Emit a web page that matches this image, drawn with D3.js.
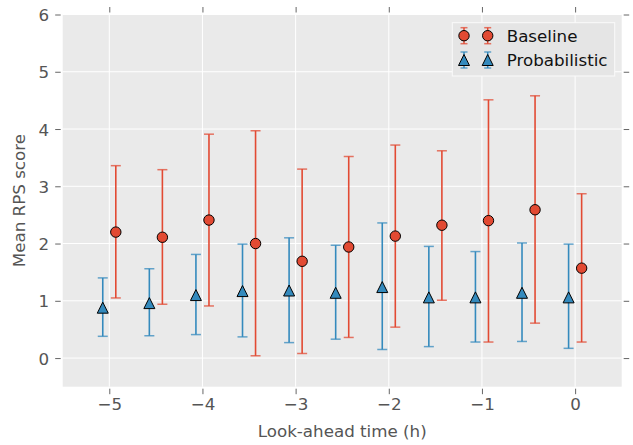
<!DOCTYPE html>
<html><head><meta charset="utf-8">
<script src="https://cdn.jsdelivr.net/npm/d3@7"></script>
<style>body{margin:0;background:#fff}svg{display:block}text{font-family:"DejaVu Sans",sans-serif}</style>
</head><body><svg id="c" width="633" height="445"></svg>
<script>
const lookAhead = [-5, -4.5, -4, -3.5, -3, -2.5, -2, -1.5, -1, -0.5, 0];
const baselineMean = [2.20, 2.11, 2.41, 2.00, 1.69, 1.94, 2.13, 2.32, 2.40, 2.59, 1.57];
const baselineLow  = [1.05, 0.94, 0.91, 0.04, 0.08, 0.36, 0.54, 1.01, 0.28, 0.61, 0.28];
const baselineHigh = [3.36, 3.29, 3.91, 3.97, 3.30, 3.52, 3.72, 3.62, 4.51, 4.58, 2.87];
const probMean = [0.88, 0.96, 1.10, 1.17, 1.18, 1.14, 1.24, 1.06, 1.06, 1.14, 1.06];
const probLow  = [0.38, 0.39, 0.41, 0.37, 0.27, 0.33, 0.15, 0.20, 0.28, 0.29, 0.17];
const probHigh = [1.40, 1.56, 1.81, 1.99, 2.10, 1.97, 2.36, 1.95, 1.86, 2.01, 1.99];
const xTicks = [-5, -4, -3, -2, -1, 0];
const yTicks = [0, 1, 2, 3, 4, 5, 6];
const seriesNames = ["Baseline", "Probabilistic"];

const red = "#E24A33", blue = "#348ABD";
const L = 62.7, R = 621.7, T = 14.5, B = 386.7;
const x = d3.scaleLinear().domain([-5.5, 0.5]).range([L, R]);
const y = d3.scaleLinear().domain([-0.5, 6]).range([B, T]);
const svg = d3.select("#c");
const tickCol = "#666", labCol = "#555";

svg.append("rect").attr("x", L).attr("y", T).attr("width", R - L).attr("height", B - T).attr("fill", "#EAEAEA");
const g = svg.append("g");
g.selectAll(".gx").data(xTicks).join("line").attr("x1", d => x(d)).attr("x2", d => x(d))
  .attr("y1", T).attr("y2", B).attr("stroke", "#fff").attr("stroke-width", 1);
g.selectAll(".gy").data(yTicks).join("line").attr("y1", d => y(d)).attr("y2", d => y(d))
  .attr("x1", L).attr("x2", R).attr("stroke", "#fff").attr("stroke-width", 1);

const fmt = d => d < 0 ? "\u2212" + Math.abs(d) : String(d);
function styleAxis(sel) {
  sel.select(".domain").remove();
  sel.selectAll(".tick line").attr("stroke", tickCol);
  sel.selectAll(".tick text").attr("fill", labCol).style("font-size", "16.7px").style("font-family", "DejaVu Sans");
}
const ax = svg.append("g").attr("transform", `translate(0,${B + 2})`)
  .call(d3.axisBottom(x).tickValues(xTicks).tickFormat(fmt).tickSize(5.5).tickPadding(4));
styleAxis(ax);
const axT = svg.append("g").attr("transform", `translate(0,${T - 2})`)
  .call(d3.axisTop(x).tickValues(xTicks).tickFormat("").tickSize(5.5));
styleAxis(axT);
const ay = svg.append("g").attr("transform", `translate(${L - 2},0)`)
  .call(d3.axisLeft(y).tickValues(yTicks).tickFormat(fmt).tickSize(5.5).tickPadding(6));
styleAxis(ay);
const ayR = svg.append("g").attr("transform", `translate(${R + 2},0)`)
  .call(d3.axisRight(y).tickValues(yTicks).tickFormat("").tickSize(5.5));
styleAxis(ayR);
ay.selectAll(".tick text").attr("dy", "0.36em");

svg.append("text").attr("x", (L + R) / 2).attr("y", 437).attr("text-anchor", "middle")
  .attr("fill", labCol).style("font-size", "16.7px").text("Look-ahead time (h)");
svg.append("text").attr("transform", `translate(25,${(T + B) / 2}) rotate(-90)`).attr("text-anchor", "middle")
  .attr("fill", labCol).style("font-size", "16.7px").text("Mean RPS score");

const off = 0.07, cap = 5;
function drawSeries(means, lows, highs, dx, color, shape) {
  const data = lookAhead.map((t, i) => ({ t: t + dx, m: means[i], lo: lows[i], hi: highs[i] }));
  const gg = svg.append("g");
  gg.selectAll(".eb").data(data).join("line").attr("x1", d => x(d.t)).attr("x2", d => x(d.t))
    .attr("y1", d => y(d.lo)).attr("y2", d => y(d.hi)).attr("stroke", color).attr("stroke-width", 1.6);
  ["lo", "hi"].forEach(k => {
    gg.selectAll(".cap" + k).data(data).join("line").attr("x1", d => x(d.t) - cap).attr("x2", d => x(d.t) + cap)
      .attr("y1", d => y(d[k])).attr("y2", d => y(d[k])).attr("stroke", color).attr("stroke-width", 1.5).attr("stroke-opacity", 0.75);
  });
  if (shape === "circle") {
    gg.selectAll(".m").data(data).join("circle").attr("cx", d => x(d.t)).attr("cy", d => y(d.m)).attr("r", 5.2)
      .attr("fill", color).attr("stroke", "#000").attr("stroke-width", 1);
  } else {
    gg.selectAll(".m").data(data).join("path")
      .attr("d", d => { const cx = x(d.t), cy = y(d.m); return `M${cx},${cy - 5.5}L${cx + 5.5},${cy + 5.5}L${cx - 5.5},${cy + 5.5}Z`; })
      .attr("fill", color).attr("stroke", "#000").attr("stroke-width", 1);
  }
}
drawSeries(probMean, probLow, probHigh, -off, blue, "tri");
drawSeries(baselineMean, baselineLow, baselineHigh, off, red, "circle");

const lg = svg.append("g");
lg.append("rect").attr("x", 452.3).attr("y", 22.7).attr("width", 162.4).attr("height", 53.3)
  .attr("fill", "#E5E5E5").attr("stroke", "#fafafa").attr("stroke-width", 1);
const rows = [{ name: seriesNames[0], color: red, shape: "circle", cy: 35.7 }, { name: seriesNames[1], color: blue, shape: "tri", cy: 60 }];
rows.forEach(r => {
  [464, 487.7].forEach(cx => {
    lg.append("line").attr("x1", cx).attr("x2", cx).attr("y1", r.cy - 8).attr("y2", r.cy + 8).attr("stroke", r.color).attr("stroke-width", 1.5);
    [r.cy - 8, r.cy + 8].forEach(yy => lg.append("line").attr("x1", cx - 3.5).attr("x2", cx + 3.5).attr("y1", yy).attr("y2", yy)
      .attr("stroke", r.color).attr("stroke-width", 1.5).attr("stroke-opacity", 0.75));
    if (r.shape === "circle") lg.append("circle").attr("cx", cx).attr("cy", r.cy).attr("r", 5.2).attr("fill", r.color).attr("stroke", "#000");
    else lg.append("path").attr("d", `M${cx},${r.cy - 5.5}L${cx + 5.5},${r.cy + 5.5}L${cx - 5.5},${r.cy + 5.5}Z`).attr("fill", r.color).attr("stroke", "#000");
  });
  lg.append("text").attr("x", 506.7).attr("y", r.cy).attr("dy", "0.36em").attr("fill", "#111").style("font-size", "16.7px").text(r.name);
});
</script></body></html>
